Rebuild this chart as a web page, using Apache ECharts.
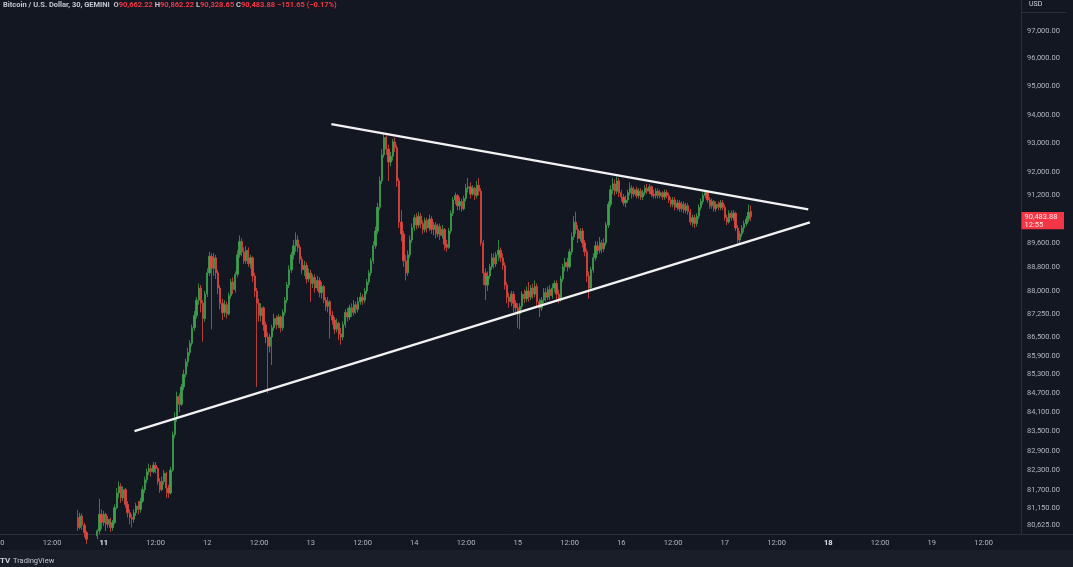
<!DOCTYPE html>
<html><head><meta charset="utf-8">
<script src="https://cdn.jsdelivr.net/npm/echarts@6/dist/echarts.min.js"></script>
<style>html,body{margin:0;padding:0;background:#131722;}#c{width:1073px;height:567px;}</style>
</head><body><div id="c"></div>
<script>
// ---------- data ----------
const symbolTitle = 'Bitcoin / U.S. Dollar, 30, GEMINI';
const firstBar = Date.UTC(2024, 10, 10, 18, 0);   // first visible 30-min bar
const barMinutes = 30;
const countdown = '12:55';
// rows: [open, close, low, high]
const nov10 = [
[80850,80550,80450,81080],[80550,80900,80500,81000],[80900,80620,80480,80980],[80620,80400,80250,80700],
[80400,80200,80050,80450],[80200,80100,79900,80300],[80100,80250,80000,80330],[80250,80150,79950,80320],
[80150,80300,80050,80340],[80300,80450,80200,80500],[80450,80950,80350,81420],[80950,80700,80500,81100]];
const nov11 = [
[80700,80950,80600,81050],[80950,80650,80450,81000],[80650,80800,80550,80900],[80800,80550,80420,80850],
[80550,80700,80450,80780],[80700,81150,80650,81250],[81150,81600,81100,81750],[81600,81800,81450,81950],
[81800,81450,81300,81900],[81450,81700,81350,81800],[81700,81250,81150,81750],[81250,81000,80850,81350],
[81000,80850,80650,81100],[80850,80800,80550,80950],[80800,81000,80700,81100],[81000,81200,80900,81300],
[81200,81100,80950,81350],[81100,81350,81000,81450],[81350,81700,81300,81800],[81700,82000,81600,82100],
[82000,82250,81900,82350],[82250,82350,82150,82500],[82350,82250,82100,82450],[82250,82450,82200,82550],
[82450,82350,82200,82550],[82350,81950,81850,82400],[81950,81700,81600,82050],[81700,81950,81650,82100],
[81950,82200,81850,82300],[82200,81750,81450,82250],[81750,81600,81450,81850],[81600,82300,81550,82400],
[82300,83400,82250,83500],[83400,83900,83300,84100],[83900,84600,83800,84750],[84600,84350,84100,84700],
[84350,84900,84300,85000],[84900,85300,84800,85450],[85300,85700,85200,85800],[85700,86000,85550,86150],
[86000,86300,85900,86400],[86300,86800,86200,86900],[86800,87200,86700,87350],[87200,87700,87100,87800],
[87700,88100,87550,88250],[88100,87600,87300,88200],[87600,87100,86350,87700],[87100,87900,87000,88000]];
const nov12 = [
[87900,88600,87800,88750],[88600,89150,88500,89300],[89150,88750,86750,89250],[88750,89100,88500,89250],
[89100,88600,88400,89200],[88600,88100,87900,88700],[88100,87600,87400,88200],[87600,87300,87050,87750],
[87300,87550,87150,87700],[87550,87250,87100,87650],[87250,87850,87200,87950],[87850,88300,87750,88400],
[88300,88050,87900,88450],[88050,88550,87950,88650],[88550,89200,88450,89350],[89200,89650,89100,89850],
[89650,89300,89150,89750],[89300,89000,88900,89450],[89000,89350,88900,89500],[89350,88900,88800,89450],
[88900,89100,88750,89200],[89100,88500,88300,89150],[88500,88000,87800,88600],[88000,87600,84900,88100],
[87600,87200,87000,87750],[87200,87450,87000,87600],[87450,86900,86700,87500],[86900,86500,86300,87000],
[86500,86200,84700,86650],[86200,86500,86000,86600],[86500,86800,85600,86900],[86800,87100,86700,87250],
[87100,86900,86750,87200],[86900,87150,86800,87250],[87150,86800,86650,87200],[86800,87300,86700,87400],
[87300,87700,87200,87800],[87700,88200,87600,88300],[88200,88700,88100,88850],[88700,89200,88600,89300],
[89200,89500,89050,89700],[89500,89700,89300,89950],[89700,89450,89300,89850],[89450,89050,88900,89550],
[89050,88700,88550,89150],[88700,88850,88500,89000],[88850,88400,88250,88950],[88400,88600,88300,88750]];
const nov13 = [
[88600,88250,87650,88700],[88250,88450,88100,88550],[88450,88100,87950,88550],[88100,88350,88000,88500],
[88350,87950,87800,88450],[87950,88150,87750,88300],[88150,87700,87600,88200],[87700,87500,87350,87800],
[87500,87650,87300,87800],[87650,87200,86450,87700],[87200,87050,86900,87350],[87050,86750,86600,87150],
[86750,86950,86650,87100],[86950,86600,86400,87000],[86600,86500,86250,86800],[86500,86900,86400,87000],
[86900,87300,86800,87400],[87300,87150,87000,87450],[87150,87450,87050,87550],[87450,87300,87150,87600],
[87300,87550,87200,87700],[87550,87400,87250,87650],[87400,87650,87300,87800],[87650,87800,87550,87950],
[87800,87700,87550,87900],[87700,88000,87600,88100],[88000,88300,87900,88400],[88300,88600,88200,88700],
[88600,89000,88500,89100],[89000,89500,88900,89650],[89500,90000,89400,90150],[90000,90800,89900,90950],
[90800,91700,90700,91850],[91700,92600,91600,92800],[92600,93200,92500,93350],[93200,92800,92600,93300],
[92800,92350,91700,92950],[92350,92550,92200,92700],[92550,93050,92400,93150],[93050,92850,92700,93200],
[92850,91700,91500,92950],[91700,90300,90100,91800],[90300,89900,89650,90700],[89900,89000,88800,90000],
[89000,88600,88350,89200],[88600,89200,88500,89350],[89200,89700,89100,89850],[89700,90100,89600,90250]];
const nov14 = [
[90100,90450,90000,90550],[90450,90200,90050,90600],[90200,90500,90100,90650],[90500,90250,90100,90600],
[90250,90050,89900,90350],[90050,90350,89950,90450],[90350,90100,89950,90450],[90100,90400,90000,90550],
[90400,90050,89900,90500],[90050,90200,89850,90300],[90200,89900,89750,90300],[89900,90150,89800,90250],
[90150,89850,89700,90250],[89850,90050,89750,90200],[90050,89550,89350,90100],[89550,89450,89300,89700],
[89450,90000,89400,90100],[90000,90600,89900,90700],[90600,91050,90500,91150],[91050,91200,90900,91300],
[91200,90850,90700,91250],[90850,91000,90700,91150],[91000,90750,90650,91100],[90750,91100,90700,91200],
[91100,91450,91000,91600],[91450,91500,91300,91800],[91500,91250,91100,91650],[91250,91450,91200,91550],
[91450,91200,91050,91500],[91200,91550,91100,91700],[91550,91350,91200,91800],[91350,89600,89500,91450],
[89600,88600,88200,89700],[88600,88200,87700,88750],[88200,88500,88000,88650],[88500,88800,88400,88900],
[88800,89100,88700,89250],[89100,88900,88750,89250],[88900,89200,88800,89300],[89200,89350,89000,89700],
[89350,89100,88950,89450],[89100,88850,88700,89250],[88850,88200,88050,88950],[88200,87800,87600,88300],
[87800,87650,87450,87950],[87650,87900,87500,88000],[87900,87600,87300,88000],[87600,87450,87300,87700]];
const nov15 = [
[87450,87250,86800,87600],[87250,87500,86750,87600],[87500,87900,87400,88000],[87900,87750,87600,88050],
[87750,88000,87650,88150],[88000,87800,87650,88300],[87800,88100,87700,88200],[88100,87900,87750,88250],
[87900,88150,87800,88350],[88150,87650,87500,88250],[87650,87450,87150,87750],[87450,87700,87350,87800],
[87700,87950,87600,88100],[87950,87800,87650,88100],[87800,88050,87700,88150],[88050,87850,87700,88200],
[87850,88100,87750,88250],[88100,88250,87950,88350],[88250,87900,87700,88350],[87900,87750,87600,88050],
[87750,88400,87650,88500],[88400,88800,88300,88900],[88800,88950,88650,89100],[88950,88800,88650,89100],
[88800,89300,88750,89400],[89300,89800,89200,89950],[89800,90300,89700,90500],[90300,90050,89900,90650],
[90050,89750,89600,90200],[89750,90000,89650,90100],[90000,89600,89450,90100],[89600,89300,89150,89700],
[89300,88500,88300,89400],[88500,88100,87750,88650],[88100,88700,88000,88800],[88700,89100,88600,89250],
[89100,89500,89000,89650],[89500,89350,89200,89650],[89350,89600,89250,89800],[89600,89400,89250,89700],
[89400,89600,89300,89750],[89600,90200,89500,90300],[90200,90900,90100,91000],[90900,91400,90800,91550],
[91400,91600,91250,91800],[91600,91350,91200,91750],[91350,91700,91250,91850],[91700,91300,91150,91800]];
const nov16 = [
[91300,91150,91000,91400],[91150,90950,90850,91250],[90950,91050,90800,91200],[91050,91300,90950,91400],
[91300,91450,91200,91650],[91450,91250,91100,91550],[91250,91400,91150,91500],[91400,91200,91100,91500],
[91200,91350,91100,91450],[91350,91150,91050,91450],[91150,91300,91050,91400],[91300,91450,91200,91550],
[91450,91350,91250,91600],[91350,91500,91250,91600],[91500,91250,91150,91550],[91250,91200,91100,91400],
[91200,91350,91100,91450],[91350,91200,91100,91450],[91200,91300,91100,91400],[91300,91150,91050,91350],
[91150,91300,91050,91400],[91300,91200,91100,91400],[91200,91050,90950,91300],[91050,90900,90800,91150],
[90900,91050,90800,91150],[91050,90800,90700,91150],[90800,90950,90700,91050],[90950,90750,90650,91050],
[90750,90900,90650,91000],[90900,90700,90600,91000],[90700,90850,90600,90950],[90850,90650,90550,90950],
[90650,90300,90200,90750],[90300,90450,90150,90550],[90450,90250,90100,90550],[90250,90500,90150,90600],
[90500,90800,90400,90900],[90800,91000,90700,91100],[91000,91200,90900,91300],[91200,91300,91100,91350],
[91300,91050,90950,91350],[91050,90850,90750,91150],[90850,91000,90750,91100],[91000,90750,90650,91050],
[90750,90900,90650,91000],[90900,90800,90700,91000],[90800,90950,90700,91050],[90950,90800,90700,91050]];
const nov17 = [
[90800,90450,90350,90900],[90450,90300,90200,90550],[90300,90600,90250,90700],[90600,90450,90350,90700],
[90450,90600,90350,90700],[90600,90100,90000,90650],[90100,89700,89500,90200],[89700,89900,89550,90000],
[89900,90100,89800,90200],[90100,90250,89950,90350],[90250,90400,90150,90500],[90400,90635.53,90300,90900],
[90662.22,90483.88,90328.65,90862.22]];

// triangle trend lines: [time, price]
const upperLine = [[Date.UTC(2024,10,13,4,46), 93670], [Date.UTC(2024,10,17,19,21), 90730]];
const lowerLine = [[Date.UTC(2024,10,11,7,7), 83510], [Date.UTC(2024,10,17,19,44), 90290]];

// axis ticks
const yTickValues = [97000,96000,95000,94000,93000,92000,91200,89600,88800,88000,87250,86500,85900,85300,84700,84100,83500,82900,82300,81700,81150,80625];
const xTickDays = [10,11,12,13,14,15,16,17,18,19];
const boldDays = [11,18];
const yMin = 80356, yMax = 98121;
const xMin = Date.UTC(2024,10,9,23,56), xMax = Date.UTC(2024,10,19,20,41);

// ---------- build ----------
const FONT = 'Roboto, "Noto Sans", sans-serif';
const UP = '#3f9f4d', DOWN = '#e0463d';
function fmt(v){ const p = v.toFixed(2).split('.'); return p[0].replace(/\B(?=(\d{3})+$)/g, ',') + '.' + p[1]; }

const rows = [].concat(nov10, nov11, nov12, nov13, nov14, nov15, nov16, nov17);
const candleData = rows.map((r, i) => [firstBar + i * barMinutes * 60000, r[0], r[1], r[2], r[3]]);
const last = rows[rows.length - 1], prevClose = rows[rows.length - 2][1];
const chg = last[1] - prevClose, pct = chg / prevClose * 100;
const minus = '\u2212';
const chgText = (chg < 0 ? minus : '+') + fmt(Math.abs(chg)) + ' (' + (chg < 0 ? minus : '+') + Math.abs(pct).toFixed(2) + '%)';

const xTicks = [];
xTickDays.forEach(d => { xTicks.push(Date.UTC(2024,10,d,0)); xTicks.push(Date.UTC(2024,10,d,12)); });

const chart = echarts.init(document.getElementById('c'), null, {renderer: 'canvas', width: 1073, height: 567});
chart.setOption({
  backgroundColor: '#131722',
  animation: false,
  textStyle: {fontFamily: FONT},
  title: {
    left: 3, top: 1, padding: 0,
    text: '{n|' + symbolTitle + '}  {k|O}{v|' + fmt(last[0]) + '} {k|H}{v|' + fmt(last[3]) + '} {k|L}{v|' + fmt(last[2]) + '} {k|C}{v|' + fmt(last[1]) + '} {v|' + chgText + '}',
    textStyle: {
      fontSize: 7.5, fontFamily: FONT,
      rich: {
        n: {color: '#c3c6ce', fontSize: 7.5, fontFamily: FONT},
        k: {color: '#c3c6ce', fontSize: 7.5, fontFamily: FONT},
        v: {color: '#f23645', fontSize: 7.5, fontFamily: FONT}
      }
    }
  },
  grid: {left: 0, right: 52, top: 0, bottom: 33, containLabel: false, outerBoundsMode: 'none'},
  xAxis: {
    type: 'value', min: xMin, max: xMax, scale: true,
    axisLine: {show: true, lineStyle: {color: '#2a2e39', width: 1}},
    axisTick: {show: false},
    splitLine: {show: false},
    axisLabel: {
      customValues: xTicks,
      color: '#b2b5be', fontSize: 7.5, fontFamily: FONT, margin: 5,
      formatter: function (v) {
        const d = new Date(v);
        if (d.getUTCHours() === 12) return '12:00';
        const day = d.getUTCDate();
        return boldDays.indexOf(day) >= 0 ? '{b|' + day + '}' : String(day);
      },
      rich: {b: {color: '#e6e8ec', fontWeight: 'bold', fontSize: 7.5, fontFamily: FONT}}
    }
  },
  yAxis: {
    type: 'log', logBase: 10, min: yMin, max: yMax, position: 'right',
    axisLine: {show: true, lineStyle: {color: '#2a2e39', width: 1}},
    axisTick: {show: false},
    splitLine: {show: false},
    axisLabel: {
      customValues: yTickValues,
      color: '#b2b5be', fontSize: 7.5, fontFamily: FONT, margin: 6,
      formatter: v => fmt(v)
    }
  },
  series: [
    {
      type: 'candlestick', data: candleData, encode: {x: 0, y: [1, 2, 3, 4]},
      barWidth: 1.8, clip: true,
      itemStyle: {color: UP, color0: DOWN, borderColor: UP, borderColor0: DOWN, borderWidth: 0.8}
    },
    {
      type: 'line', data: upperLine, symbol: 'none', silent: true, z: 5,
      lineStyle: {color: '#f2f2f2', width: 2.4}
    },
    {
      type: 'line', data: lowerLine, symbol: 'none', silent: true, z: 5,
      lineStyle: {color: '#f2f2f2', width: 2.4}
    }
  ]
});

// price tag and chrome positioned from the library's own scale
const py = chart.convertToPixel({yAxisIndex: 0}, last[1]);
chart.setOption({
  graphic: [
    {type: 'rect', shape: {x: 0, y: 550, width: 1073, height: 17}, style: {fill: '#1a1e29'}, silent: true, z: 0},
    {type: 'line', shape: {x1: 1021, y1: 534.5, x2: 1073, y2: 534.5}, style: {stroke: '#2a2e39', lineWidth: 1}, silent: true},
    {type: 'line', shape: {x1: 1021, y1: 12.5, x2: 1066, y2: 12.5}, style: {stroke: '#2a2e39', lineWidth: 1}, silent: true},
    {type: 'text', x: 1029, y: 4, style: {text: 'USD', fill: '#d1d4dc', fontSize: 7, fontFamily: FONT, verticalAlign: 'middle'}, silent: true},
    {type: 'text', x: 0, y: 561, style: {text: 'TV', fill: '#d1d4dc', fontSize: 8, fontWeight: 'bold', fontFamily: FONT, verticalAlign: 'middle'}, silent: true},
    {type: 'text', x: 13, y: 561, style: {text: 'TradingView', fill: '#c3c6ce', fontSize: 7.5, fontFamily: FONT, verticalAlign: 'middle'}, silent: true},
    {type: 'rect', shape: {x: 1021.5, y: py - 4.6, width: 42.5, height: 17.3}, style: {fill: '#f23645'}, silent: true, z: 10},
    {type: 'text', x: 1024.5, y: py, style: {text: fmt(last[1]), fill: '#ffe9ea', fontSize: 7.5, fontFamily: FONT, verticalAlign: 'middle'}, silent: true, z: 11},
    {type: 'text', x: 1024.5, y: py + 8.3, style: {text: countdown, fill: '#ffe9ea', fontSize: 7.5, fontFamily: FONT, verticalAlign: 'middle'}, silent: true, z: 11}
  ]
});
</script>
</body></html>
